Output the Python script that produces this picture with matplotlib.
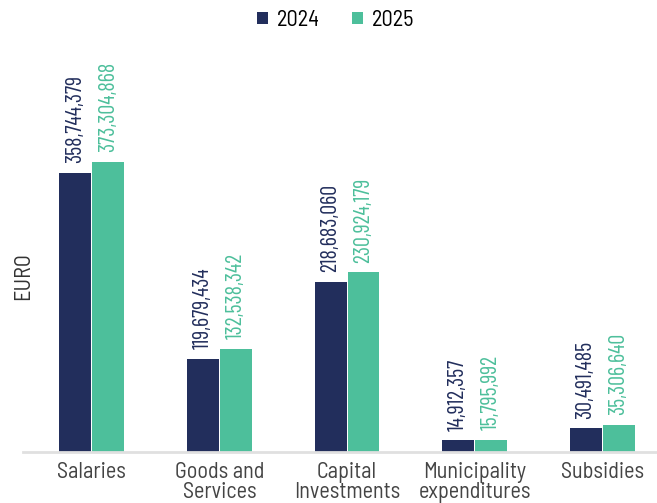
import matplotlib
matplotlib.use("Agg")
import matplotlib.pyplot as plt
import numpy as np

plt.rcParams["font.family"] = ["Barlow Semi Condensed", "DejaVu Sans"]
NUM_FONT = ["Barlow Condensed", "DejaVu Sans"]

categories = ["Salaries", "Goods and\nServices", "Capital\nInvestments",
              "Municipality\nexpenditures", "Subsidies"]
values_2024 = [358744379, 119679434, 218683060, 14912357, 30491485]
values_2025 = [373304868, 132538342, 230924179, 15795992, 35306640]

C_2024 = "#222e5c"
C_2025 = "#4dbf9b"

fig = plt.figure(figsize=(6.57, 5.03), dpi=100)
ax = fig.add_axes([0.035, 0.1014, 0.965, 0.8042])

x = np.arange(len(categories))
w = 0.25
b1 = ax.bar(x - w / 2 - 0.004, values_2024, w, color=C_2024, label="2024")
b2 = ax.bar(x + w / 2 + 0.004, values_2025, w, color=C_2025, label="2025")

for bars, color in ((b1, C_2024), (b2, C_2025)):
    for bar in bars:
        h = bar.get_height()
        ax.annotate(f"{h:,.0f}", (bar.get_x() + bar.get_width() / 2, h),
                    xytext=(0, 7), textcoords="offset points",
                    rotation=90, ha="center", va="bottom",
                    fontsize=16, family=NUM_FONT, color=color)

ax.set_xlim(-0.54, 4.43)
ax.set_ylim(0, 520e6)
ax.set_xticks(x)
ax.set_xticklabels(categories, fontsize=16, color="#444444", linespacing=0.95)
ax.tick_params(axis="x", length=0, pad=7)
ax.set_yticks([])
fig.text(24 / 657, 1 - 276 / 503, "EURO", rotation=90, ha="center",
         va="center", fontsize=16, color="#333333")

for s in ("top", "right", "left"):
    ax.spines[s].set_visible(False)
ax.spines["bottom"].set_color("#e0e0e0")
ax.spines["bottom"].set_linewidth(2)

fig.legend(handles=[b1, b2], loc="upper center", bbox_to_anchor=(0.511, 1.02),
           ncol=2, frameon=False, fontsize=16, handlelength=0.5,
           handleheight=0.5, handletextpad=0.4, columnspacing=1.45)

fig.savefig("out.png", dpi=100)
